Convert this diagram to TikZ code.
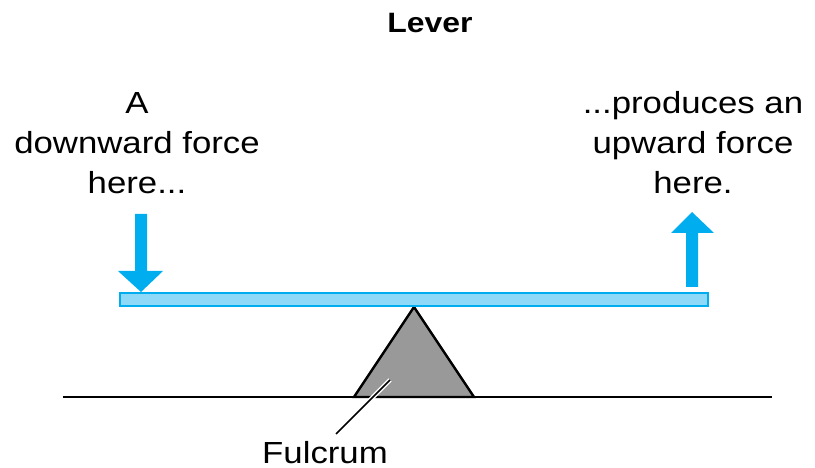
\documentclass[tikz,border=0pt]{standalone}
\usepackage{fontspec}
\setmainfont{Liberation Sans}[FakeStretch=1.14]
\definecolor{levercyan}{HTML}{00AEEF}
\definecolor{beamfill}{HTML}{8ED8F8}
\definecolor{fulcrumgray}{HTML}{999999}
\begin{document}
\begin{tikzpicture}[x=1pt,y=-1pt,
  label/.style={inner sep=0pt,anchor=base,font=\fontsize{30.5}{40}\selectfont},
  title/.style={inner sep=0pt,anchor=base,font=\fontsize{28}{34}\selectfont\bfseries},
  force/.style={fill=levercyan,draw=none},
  beam/.style={fill=beamfill,draw=levercyan,line width=2.8pt},
  ground/.style={draw=black,line width=2.6pt},
  fulcrum/.style={fill=fulcrumgray,draw=black,line width=2.4pt,line join=miter}]
\useasboundingbox (0,0) rectangle (815,468);

% title
\node[title] (title) at (430,33) {Lever};

% captions above the two ends of the lever
\node[label] (l1) at (137,114) {A};
\node[label] (l2) at (137,154) {downward force};
\node[label] (l3) at (137,194) {here...};
\node[label] (r1) at (693,114) {...produces an};
\node[label] (r2) at (693,154) {upward force};
\node[label] (r3) at (693,194) {here.};

% ground and fulcrum
\draw[ground] (63,397) -- (772,397);
\draw[fulcrum] (414,307) -- (474,397) -- (354,397) -- cycle;

% lever beam
\draw[beam] (120,293) rectangle (708,306);

% downward force arrow
\fill[force] (135,214) -- (147,214) -- (147,271) -- (163,271) -- (141,292)
  -- (118,271) -- (135,271) -- cycle;
% upward force arrow
\fill[force] (686,287) -- (698,287) -- (698,233) -- (714,233) -- (692,212)
  -- (671,233) -- (686,233) -- cycle;

% fulcrum label with its leader line
\node[label] (ful) at (325,463) {Fulcrum};
\coordinate (lead) at (390,380);
\coordinate (leadend) at (336,434);
\draw[white,line width=4.5pt] (lead) -- (leadend);
\draw[black,line width=1.5pt] (lead) -- (leadend);
\end{tikzpicture}
\end{document}
